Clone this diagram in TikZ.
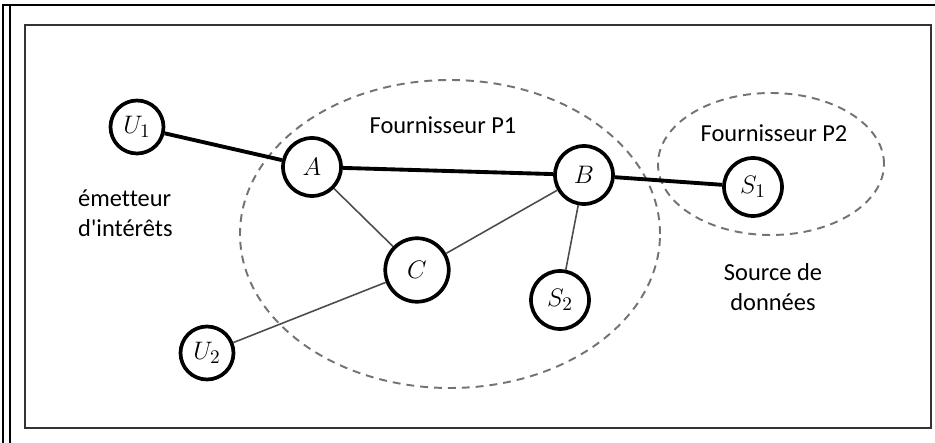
\documentclass[tikz,border=0pt]{standalone}
\usepackage[no-math]{fontspec}
\setmainfont{Carlito}[Ligatures={TeXOff,NoCommon}]
\begin{document}
\begin{tikzpicture}[
    station/.style={circle,draw,fill=white,line width=2.1pt,inner sep=0pt,
      minimum size=1.16cm,font=\fontsize{15}{17}\selectfont},
    heavy/.style={line width=2.2pt},
    light/.style={line width=0.9pt,black!70},
    zone/.style={draw=black!55,line width=1.1pt,dash pattern=on 4.5pt off 3.4pt},
    lbl/.style={font=\fontsize{13.9}{17}\selectfont,align=center}]
      \useasboundingbox (0,0) rectangle (18.7,8.86);
      \draw[line width=0.8pt] (0.06,0) -- (0.06,8.76) -- (18.7,8.76);
      \draw[line width=0.8pt] (0.2,0) -- (0.2,8.76);
      \draw[line width=1.5pt,black!80] (0.5,0.3) rectangle (18.62,8.36);

      \draw[zone] (9.0,4.18) ellipse (4.2cm and 3.08cm);
      \draw[zone] (15.42,5.58) ellipse (2.26cm and 1.42cm);

      \node[station,minimum size=1.06cm] (U1) at (2.74,6.32) {$U_1$};
      \node[station] (A) at (6.24,5.52) {$A$};
      \node[station] (B) at (11.68,5.36) {$B$};
      \node[station] (S1) at (15.06,5.12) {$S_1$};
      \node[station] (S2) at (11.2,2.86) {$S_2$};
      \node[station,minimum size=1.27cm] (C) at (8.34,3.46) {$C$};
      \node[station,minimum size=1.06cm] (U2) at (4.14,1.8) {$U_2$};

      \draw[heavy] (U1) -- (A);
      \draw[heavy] (A) -- (B);
      \draw[heavy] (B) -- (S1);
      \draw[light] (A) -- (C);
      \draw[light] (C) -- (B);
      \draw[light] (B) -- (S2);
      \draw[light] (U2) -- (C);

      \node[lbl] (p1) at (8.86,6.36) {Fournisseur P1};
      \node[lbl] (p2) at (15.48,6.2) {Fournisseur P2};
      \node[lbl] (src) at (15.46,3.12) {Source de\\données};
      \node[lbl,align=left,anchor=west] (usr) at (1.44,4.6) {émetteur\\d'intérêts};
    \end{tikzpicture}
\end{document}
